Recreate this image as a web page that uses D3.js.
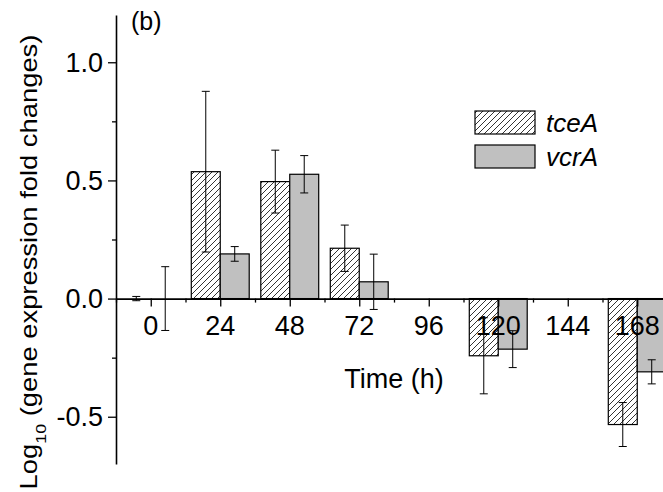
<!DOCTYPE html>
<html lang="en">
<head>
    <meta charset="UTF-8">
    <title>Gene expression fold changes</title>
    <script src="https://d3js.org/d3.v7.min.js"></script>
    <style>
        body { margin: 0; background: #fff; }
        text { font-family: "Liberation Sans", Arial, sans-serif; fill: #000; }
    </style>
</head>
<body>
    <div id="chart"></div>
    <script>
        // data
        const times = [0, 24, 48, 72, 96, 120, 144, 168];
        const tceA = [0.0, 0.537, 0.495, 0.213, null, -0.242, null, -0.533];
        const tceAErr = [0.009, 0.34, 0.133, 0.098, null, 0.161, null, 0.093];
        const vcrA = [0.0, 0.189, 0.526, 0.071, null, -0.214, null, -0.31];
        const vcrAErr = [0.135, 0.031, 0.079, 0.117, null, 0.078, null, 0.051];
        const yTicks = [-0.5, 0.0, 0.5, 1.0];

        const width = 663, height = 492;
        const svg = d3.select("#chart").append("svg")
            .attr("width", width)
            .attr("height", height);

        // scales
        const x = d3.scaleLinear().domain([-12, 180]).range([116, 672]);
        const y = d3.scaleLinear().domain([-0.7, 1.2]).range([464, 15]);
        const barW = x(10) - x(0);

        // hatch pattern for tceA
        const defs = svg.append("defs");
        defs.append("pattern")
            .attr("id", "hatch")
            .attr("patternUnits", "userSpaceOnUse")
            .attr("width", 6).attr("height", 6)
            .append("path")
            .attr("d", "M-1,7 L7,-1 M-4,4 L4,-4 M2,10 L10,2")
            .attr("stroke", "#000")
            .attr("stroke-width", 0.8);

        const series = [
            { name: "tceA", vals: tceA, err: tceAErr, fill: "url(#hatch)", off: -1 },
            { name: "vcrA", vals: vcrA, err: vcrAErr, fill: "#c0c0c0", off: 0 }
        ];

        // bars
        series.forEach(s => {
            const rows = times.map((t, i) => ({ t: t, v: s.vals[i], e: s.err[i] }))
                .filter(d => d.v !== null);
            svg.append("g").selectAll("rect")
                .data(rows)
                .join("rect")
                .attr("x", d => x(d.t) + s.off * barW)
                .attr("y", d => y(Math.max(0, d.v)))
                .attr("width", barW)
                .attr("height", d => Math.abs(y(d.v) - y(0)))
                .attr("fill", s.fill)
                .attr("stroke", "#000")
                .attr("stroke-width", 1.2);
        });

        // x axis along y = 0
        const xAxis = d3.axisBottom(x)
            .tickValues(d3.range(-12, 181, 12))
            .tickSize(0)
            .tickFormat("");
        const gx = svg.append("g").attr("transform", `translate(0,${y(0)})`).call(xAxis);
        gx.select(".domain").attr("stroke-width", 1.6);
        gx.selectAll(".tick line")
            .attr("y2", d => d % 24 === 0 ? 8 : 4)
            .attr("stroke-width", 1.3);
        svg.append("g").selectAll("text")
            .data(times)
            .join("text")
            .attr("x", d => x(d))
            .attr("y", y(0) + 36.5)
            .attr("text-anchor", "middle")
            .style("font-size", "27px")
            .text(d => d);

        // error bars
        series.forEach(s => {
            const rows = times.map((t, i) => ({ t: t, v: s.vals[i], e: s.err[i] }))
                .filter(d => d.v !== null);
            const cx = d => x(d.t) + s.off * barW + barW / 2;
            const g = svg.append("g").attr("stroke", "#000").attr("stroke-width", 1);
            g.selectAll(".v").data(rows).join("line")
                .attr("x1", cx).attr("x2", cx)
                .attr("y1", d => y(d.v - d.e)).attr("y2", d => y(d.v + d.e));
            g.selectAll(".top").data(rows).join("line")
                .attr("x1", d => cx(d) - 4).attr("x2", d => cx(d) + 4)
                .attr("y1", d => y(d.v + d.e)).attr("y2", d => y(d.v + d.e));
            g.selectAll(".bot").data(rows).join("line")
                .attr("x1", d => cx(d) - 4).attr("x2", d => cx(d) + 4)
                .attr("y1", d => y(d.v - d.e)).attr("y2", d => y(d.v - d.e));
        });

        // y axis
        const yAxis = d3.axisLeft(y)
            .tickValues(d3.range(-0.5, 1.01, 0.25))
            .tickSize(0)
            .tickFormat("");
        const gy = svg.append("g").attr("transform", "translate(116,0)").call(yAxis);
        gy.select(".domain").attr("stroke-width", 1.6);
        gy.selectAll(".tick line")
            .attr("x2", d => Math.abs(d * 2 - Math.round(d * 2)) < 1e-6 ? -8 : -4)
            .attr("stroke-width", 1.3);
        svg.append("g").selectAll("text")
            .data(yTicks)
            .join("text")
            .attr("x", 103)
            .attr("y", d => y(d) + 9.5)
            .attr("text-anchor", "end")
            .style("font-size", "27px")
            .text(d => d.toFixed(1));

        // axis titles
        svg.append("text")
            .attr("x", 394).attr("y", 388)
            .attr("text-anchor", "middle")
            .style("font-size", "27px")
            .text("Time (h)");

        const yt = svg.append("text")
            .attr("transform", "translate(37,262) rotate(-90) scale(1.19,1)")
            .attr("text-anchor", "middle")
            .style("font-size", "23px");
        yt.append("tspan").text("Log");
        yt.append("tspan").attr("dy", 9).style("font-size", "15px").text("10");
        yt.append("tspan").attr("dy", -9).text(" (gene expression fold changes)");

        svg.append("text")
            .attr("x", 131).attr("y", 30)
            .style("font-size", "25px")
            .text("(b)");

        // legend
        const leg = svg.append("g");
        series.forEach((s, i) => {
            leg.append("rect")
                .attr("x", 475).attr("y", 111 + i * 34)
                .attr("width", 60).attr("height", 23)
                .attr("fill", s.fill)
                .attr("stroke", "#000")
                .attr("stroke-width", 1.2);
            leg.append("text")
                .attr("x", 546).attr("y", 132 + i * 34)
                .style("font-size", "26px")
                .style("font-style", "italic")
                .text(s.name);
        });
    </script>
</body>
</html>
